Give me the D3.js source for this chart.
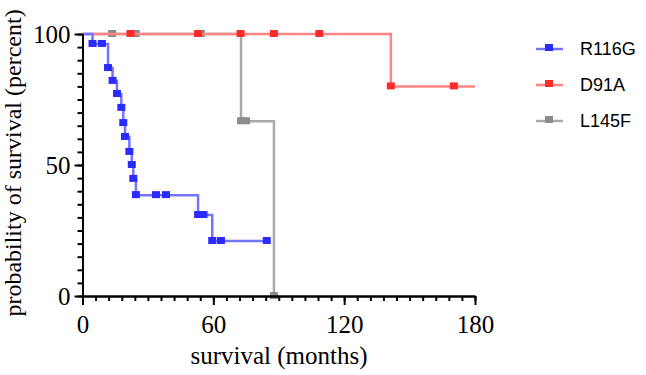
<!DOCTYPE html>
<html>
<head>
<meta charset="utf-8">
<script src="https://cdn.jsdelivr.net/npm/d3@7"></script>
<style>
  html, body { margin: 0; padding: 0; background: #fff; }
  svg { display: block; }
</style>
</head>
<body>
<svg id="chart" width="646" height="375"></svg>
<script>
// ---- data ----
const seriesNames = ["R116G", "D91A", "L145F"];
const r116gTimes    = [4.6, 8.9, 11.7, 13.8, 15.8, 17.8, 18.7, 19.5, 21.5, 22.6, 23.3, 24.5, 33.7, 38.3, 53.0, 55.5, 59.5, 63.5, 84.5];
const r116gSurvival = [96.2, 96.2, 87.0, 82.1, 77.1, 71.8, 66.0, 60.7, 55.0, 50.0, 44.7, 38.5, 38.5, 38.5, 30.9, 30.9, 21.0, 21.0, 21.0];
const r116gEnd = 84.5;
const d91aTimes    = [22.0, 53.0, 72.5, 87.8, 108.6, 141.4, 170.3];
const d91aSurvival = [100, 100, 100, 100, 100, 80, 80];
const d91aEnd = 180;
const l145fTimes    = [13.6, 24.4, 54.3, 72.7, 75.0, 87.8];
const l145fSurvival = [100, 100, 100, 66.7, 66.7, 0];
const l145fEnd = 87.8;
const xTicks = [0, 60, 120, 180];
const yTicks = [0, 50, 100];
const xMinorStep = 6;
const yMinorStep = 5;

// ---- styles ----
const lineColors   = {"R116G": "#7474ff", "D91A": "#ff8585", "L145F": "#a8a8a8"};
const markerColors = {"R116G": "#2b2bff", "D91A": "#ff2b2b", "L145F": "#8c8c8c"};
const serif = "'Liberation Serif', 'Times New Roman', serif";

const svg = d3.select("#chart");
const x = d3.scaleLinear().domain([0, 180]).range([82.5, 475]);
const y = d3.scaleLinear().domain([0, 100]).range([296, 34]);

const series = [
  {name: "L145F", times: l145fTimes, surv: l145fSurvival, end: l145fEnd},
  {name: "D91A",  times: d91aTimes,  surv: d91aSurvival,  end: d91aEnd},
  {name: "R116G", times: r116gTimes, surv: r116gSurvival, end: r116gEnd}
];

const line = d3.line().x(d => x(d[0])).y(d => y(d[1])).curve(d3.curveStepAfter);

series.forEach(s => {
  const pts = [[0, 100]];
  s.times.forEach((t, i) => pts.push([t, s.surv[i]]));
  const last = pts[pts.length - 1];
  if (s.end > last[0]) pts.push([s.end, last[1]]);
  const g = svg.append("g");
  g.append("path").attr("d", line(pts))
    .attr("fill", "none").attr("stroke", lineColors[s.name])
    .attr("stroke-width", 2.5);
  g.selectAll("rect").data(s.times.map((t, i) => [t, s.surv[i]])).join("rect")
    .attr("x", d => x(d[0]) - 4).attr("y", d => y(d[1]) - 4)
    .attr("width", 8).attr("height", 7)
    .attr("fill", markerColors[s.name]);
});

// ---- axes ----
const xMinor = d3.range(0, 181, xMinorStep);
const yMinor = d3.range(0, 101, yMinorStep);
const axes = svg.append("g");

axes.append("g").attr("transform", "translate(0,296)")
  .call(d3.axisBottom(x).tickValues(xMinor).tickSize(5).tickFormat("").tickSizeOuter(0));
axes.append("g").attr("transform", "translate(0,296)")
  .call(d3.axisBottom(x).tickValues(xTicks).tickSize(9).tickPadding(10).tickSizeOuter(0));
axes.append("g").attr("transform", "translate(82.5,0)")
  .call(d3.axisLeft(y).tickValues(yMinor).tickSize(5).tickFormat("").tickSizeOuter(0));
axes.append("g").attr("transform", "translate(82.5,0)")
  .call(d3.axisLeft(y).tickValues(yTicks).tickSize(8).tickPadding(4).tickSizeOuter(0));

axes.selectAll(".domain").attr("stroke", "#000").attr("stroke-width", 2);
axes.selectAll(".tick line").attr("stroke", "#000").attr("stroke-width", 2);
axes.selectAll(".tick text")
  .attr("font-family", serif).attr("font-size", 25).attr("fill", "#000");

// axis titles
svg.append("text")
  .attr("x", 279).attr("y", 364).attr("text-anchor", "middle")
  .attr("font-family", serif).attr("font-size", 25).attr("fill", "#000")
  .text("survival (months)");
svg.append("text")
  .attr("transform", "translate(21,163) rotate(-90)")
  .attr("text-anchor", "middle")
  .attr("font-family", serif).attr("font-size", 24).attr("fill", "#000")
  .text("probability of survival (percent)");

// ---- legend ----
const legend = svg.append("g");
seriesNames.forEach((name, i) => {
  const ly = 49 + i * 36;
  legend.append("line").attr("x1", 536).attr("x2", 563).attr("y1", ly).attr("y2", ly)
    .attr("stroke", lineColors[name]).attr("stroke-width", 2.5);
  legend.append("rect").attr("x", 545).attr("y", ly - 5).attr("width", 8).attr("height", 7)
    .attr("fill", markerColors[name]);
  legend.append("text").attr("x", 580).attr("y", ly).attr("dy", "0.36em")
    .attr("font-family", "'Liberation Sans', Arial, sans-serif")
    .attr("font-size", 18).attr("fill", "#000")
    .text(name);
});
</script>
</body>
</html>
